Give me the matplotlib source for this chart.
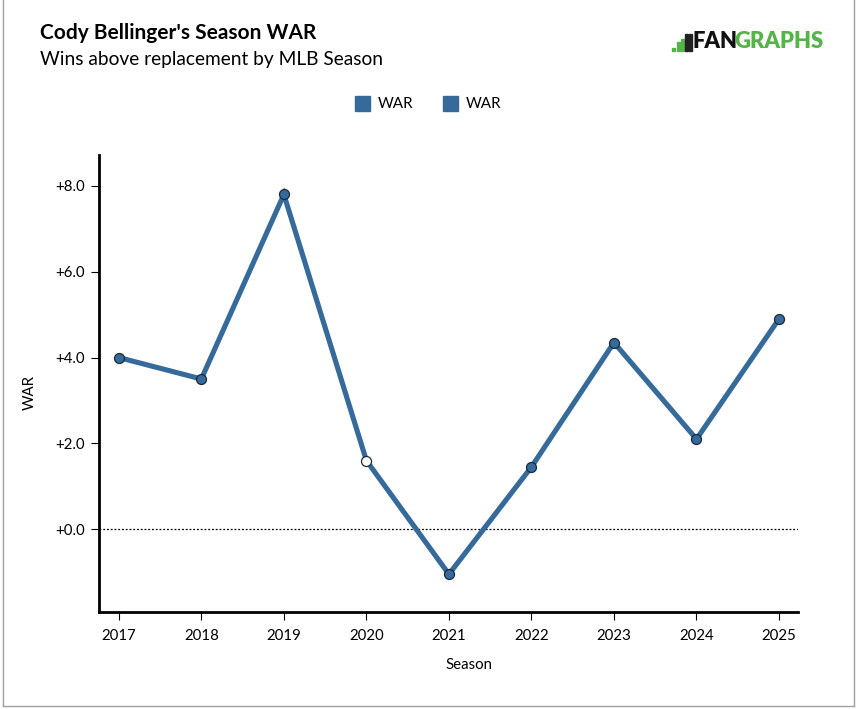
import matplotlib
matplotlib.use('Agg')
import matplotlib.pyplot as plt
from matplotlib.patches import Rectangle
from matplotlib.lines import Line2D

plt.rcParams['font.family'] = ['Lato', 'DejaVu Sans']

seasons = [2017, 2018, 2019, 2020, 2021, 2022, 2023, 2024, 2025]
war = [4.0, 3.5, 7.8, 1.6, -1.05, 1.45, 4.35, 2.1, 4.9]
hollow = [2020]   # shortened season drawn with white marker
yticks = [0, 2, 4, 6, 8]

line_col = '#356a9b'

W, H = 857, 709
fig = plt.figure(figsize=(W / 100, H / 100), dpi=100)
ax = fig.add_axes([99 / W, 1 - 612 / H, (798 - 99) / W, (612 - 155) / H])

ax.axhline(0, color='black', lw=0.9, ls=(0, (1.5, 1.5)), zorder=1)
ax.plot(seasons, war, color=line_col, lw=3.7, solid_joinstyle='miter', zorder=2)
for s, v in zip(seasons, war):
    fc = 'white' if s in hollow else line_col
    ax.plot(s, v, 'o', ms=7.2, mfc=fc, mec='#1d2a38', mew=0.9, zorder=3)

ax.set_xlim(2016.76, 2025.23)
ax.set_ylim(-1.93, 8.72)
ax.set_xticks(seasons)
ax.set_xticklabels([str(s) for s in seasons])
ax.set_yticks(yticks)
ax.set_yticklabels(['+%.1f' % t for t in yticks])
for side in ['top', 'right']:
    ax.spines[side].set_visible(False)
for side in ['left', 'bottom']:
    ax.spines[side].set_linewidth(2.0)
ax.tick_params(axis='both', length=6, width=0.8, labelsize=10.8, colors='black')
ax.tick_params(axis='x', pad=6)
ax.tick_params(axis='y', pad=4)
ax.set_xlabel('Season', fontsize=10.8)
ax.set_ylabel('WAR', fontsize=10.8)
ax.xaxis.set_label_coords((469 - 99) / 699, -(665 - 612) / 457)
ax.yaxis.set_label_coords(-(99 - 30) / 699, (612 - 393) / 457)
ax.xaxis.label.set_va('center')
ax.yaxis.label.set_va('center')

# titles
fig.text(40 / W, 1 - 33 / H, "Cody Bellinger's Season WAR", fontsize=15,
         fontweight='bold', va='center', ha='left')
fig.text(40 / W, 1 - 60 / H, 'Wins above replacement by MLB Season',
         fontsize=13.8, va='center', ha='left')

# legend
for x0 in [355, 443]:
    fig.patches.append(Rectangle((x0 / W, 1 - 111 / H), 15 / W, 15 / H,
                                 transform=fig.transFigure, color=line_col))
    fig.text((x0 + 23) / W, 1 - 104 / H, 'WAR', fontsize=11, va='center', ha='left')

# logo
green = '#55b447'
fig.patches.append(Rectangle((672 / W, 1 - 51 / H), 3 / W, 3 / H,
                             transform=fig.transFigure, color=green))
for bx, bh in [(677, 9), (681, 12)]:
    fig.patches.append(Rectangle((bx / W, 1 - 51 / H), 2.5 / W, bh / H,
                                 transform=fig.transFigure, color=green))
fig.patches.append(Rectangle((685 / W, 1 - 51 / H), 3 / W, 17 / H,
                             transform=fig.transFigure, color='#222222'))
fig.patches.append(Rectangle((689 / W, 1 - 51 / H), 2.5 / W, 17 / H,
                             transform=fig.transFigure, color='#222222'))
fig.text(693 / W, 1 - 42 / H, 'FAN', fontsize=15.8, fontweight='heavy',
         color='#111111', va='center', ha='left')
fig.text(734 / W, 1 - 42 / H, 'GRAPHS', fontsize=15.8, fontweight='heavy',
         color=green, va='center', ha='left')

# outer frame
frame = '#a0a0a0'
fig.lines.append(Line2D([3 / W, 3 / W], [1, 1 - 706 / H], transform=fig.transFigure, color=frame, lw=1))
fig.lines.append(Line2D([854 / W, 854 / W], [1, 1 - 706 / H], transform=fig.transFigure, color=frame, lw=1))
fig.lines.append(Line2D([3 / W, 854 / W], [1 - 706 / H, 1 - 706 / H], transform=fig.transFigure, color=frame, lw=1))

fig.savefig('out.png', dpi=100)
